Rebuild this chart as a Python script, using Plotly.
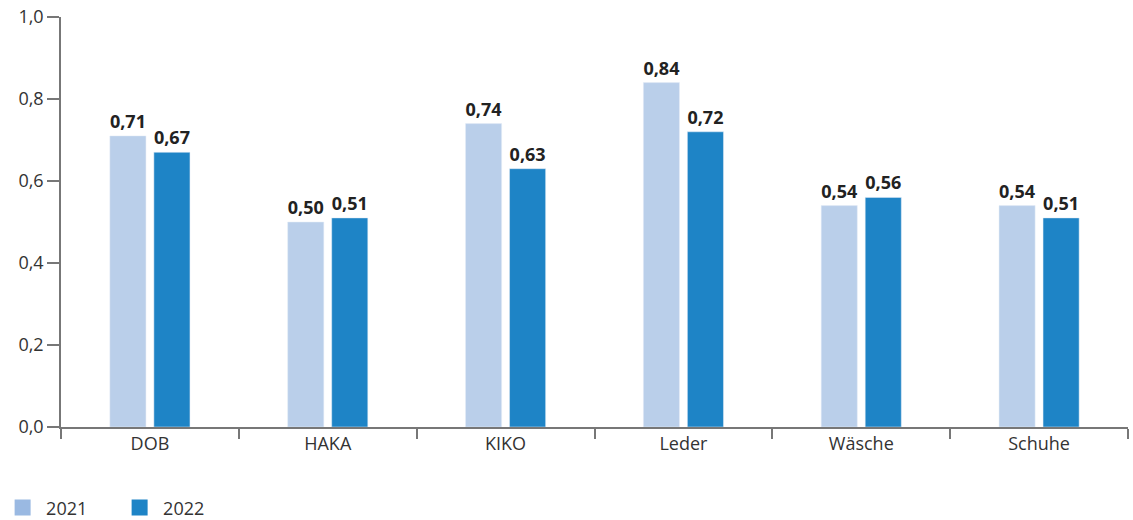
import plotly.graph_objects as go

categories = ["DOB", "HAKA", "KIKO", "Leder", "Wäsche", "Schuhe"]
values_2021 = [0.71, 0.50, 0.74, 0.84, 0.54, 0.54]
values_2022 = [0.67, 0.51, 0.63, 0.72, 0.56, 0.51]
series_names = ["2021", "2022"]
bar_colors = ["#bacfea", "#1e84c6"]
legend_colors = ["#9ab9e2", "#1e84c6"]

fig = go.Figure()
for name, vals, col in zip(series_names, [values_2021, values_2022], bar_colors):
    fig.add_trace(go.Bar(
        x=categories, y=vals, name=name, marker_color=col, showlegend=False,
        texttemplate="%{y:.2f}", textposition="outside", cliponaxis=False,
        constraintext="none",
        textfont=dict(family="Open Sans", size=18, color="#222222", weight="bold"),
    ))
for name, col in zip(series_names, legend_colors):
    fig.add_trace(go.Scatter(x=[None], y=[None], name=name, mode="markers",
                             marker=dict(symbol="square", size=18, color=col),
                             showlegend=True))

fig.update_layout(
    width=1133, height=520,
    margin=dict(l=61, r=5, t=17, b=93, autoexpand=False),
    plot_bgcolor="white", paper_bgcolor="white",
    separators=",.",
    barmode="group", bargap=0.505, bargroupgap=0.18,
    font=dict(family="Open Sans", size=18, color="#333333"),
    legend=dict(orientation="h", x=-0.058, xanchor="left", y=-0.152, yanchor="top",
                font=dict(size=18, color="#333333"), itemwidth=37, traceorder="normal",
                entrywidth=65),
    xaxis=dict(showline=True, linecolor="#777777", linewidth=1.5, ticks="outside",
               tickson="boundaries", ticklen=10, tickcolor="#777777", tickwidth=1.5,
               showgrid=False, range=[-0.5, 5.5], automargin=False),
    yaxis=dict(range=[0, 1.0], dtick=0.2, tickformat=".1f", showline=True,
               linecolor="#777777", linewidth=1.5, ticks="outside", ticklen=12,
               tickcolor="#777777", tickwidth=1.5, showgrid=False, zeroline=False,
               automargin=False),
)
fig.write_html("out.html")
